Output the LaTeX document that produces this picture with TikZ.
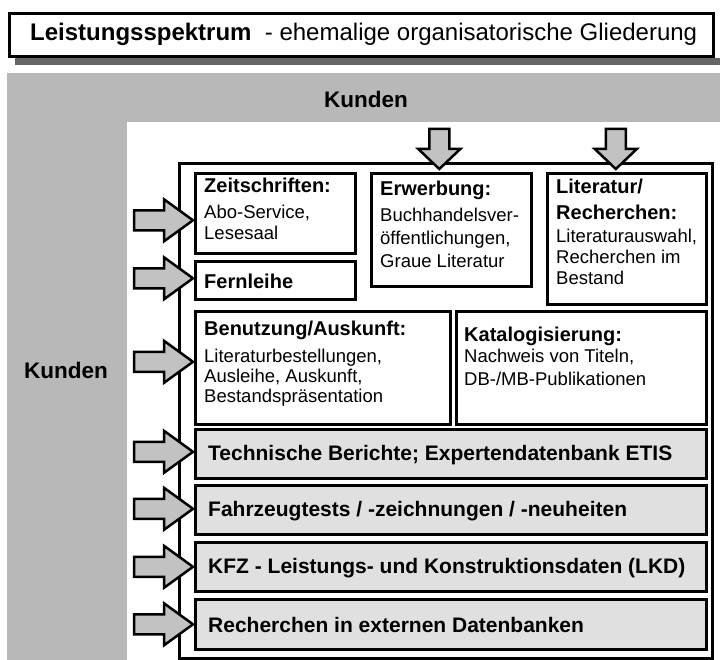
\documentclass[tikz,border=0pt]{standalone}
\usepackage{fontspec}
\setmainfont{Liberation Sans}
\usetikzlibrary{calc}
\definecolor{bgshade}{gray}{0.72}
\definecolor{rowshade}{gray}{0.88}
\definecolor{arrshade}{gray}{0.76}
\definecolor{stripshade}{gray}{0.40}
\newcommand{\hdf}{\fontsize{20}{21}\selectfont\bfseries}
\tikzset{
  box/.style={draw=black, line width=2.6pt, fill=white, inner sep=0pt, anchor=north west},
  rowbox/.style={box, fill=rowshade},
  body/.style={font=\fontsize{18.5}{21}\selectfont, align=left, inner sep=0pt, anchor=base west},
  rowtext/.style={font=\fontsize{21}{24}\selectfont\bfseries, inner sep=0pt, anchor=west},
  kunden/.style={font=\fontsize{22.5}{26}\selectfont\bfseries, inner sep=0pt},
  arrowstyle/.style={draw=black, fill=arrshade, line width=2.5pt, line join=miter},
  rarrow/.pic={\path[arrowstyle] (0,0) -- (-29,-21) -- (-29,-10) -- (-59,-10) -- (-59,10) -- (-29,10) -- (-29,21) -- cycle;},
  darrow/.pic={\path[arrowstyle] (0,0) -- (-21,-20) -- (-10,-20) -- (-10,-40) -- (10,-40) -- (10,-20) -- (21,-20) -- cycle;}
}
\begin{document}
\begin{tikzpicture}[x=1pt,y=-1pt]
\useasboundingbox (0,0) rectangle (720,660);
% background areas
\fill[bgshade] (7,73) rectangle (720,660);
\fill[white] (127,122) rectangle (720,660);
% title
\fill[stripshade] (15,58) rectangle (720,65);
\node[box, minimum width=704, minimum height=43] (title) at (8,12) {};
\node[font=\fontsize{24}{28}\selectfont, inner sep=0pt, anchor=west] (titletext) at ($(title.west)+(22,0)$)
  {\textbf{Leistungsspektrum}\ \ - ehemalige organisatorische Gliederung};
% Kunden
\node[kunden] (kundentop) at (366,99) {Kunden};
\node[kunden] (kundenleft) at (66,370) {Kunden};
% main box
\node[box, minimum width=533, minimum height=495] (main) at (178,162) {};
% inner boxes
\node[box, minimum width=160, minimum height=80] (zeit) at (194,172) {};
\node[box, minimum width=160, minimum height=38] (fern) at (194,260) {};
\node[box, minimum width=160, minimum height=113] (erw) at (370,172) {};
\node[box, minimum width=159, minimum height=131] (lit) at (546,172) {};
\node[box, minimum width=255, minimum height=113] (ben) at (194,310) {};
\node[box, minimum width=250, minimum height=113] (kat) at (455,310) {};
\node[rowbox, minimum width=511, minimum height=49] (tech) at (194,428) {};
\node[rowbox, minimum width=511, minimum height=49] (fahr) at (194,484) {};
\node[rowbox, minimum width=511, minimum height=49] (kfz) at (194,541) {};
\node[rowbox, minimum width=511, minimum height=50] (rech) at (194,598) {};
% texts (anchored at the baseline of their last line)
\node[body] (zeittext) at ($(zeit.north west)+(10,68)$)
  {{\hdf Zeitschriften:}\\[5pt] Abo-Service,\\ Lesesaal};
\node[rowtext, font=\fontsize{20}{24}\selectfont\bfseries] (ferntext) at ($(fern.west)+(10,1)$) {Fernleihe};
\node[body] (erwtext) at ($(erw.north west)+(10,96)$)
  {{\hdf Erwerbung:}\\[5pt] Buchhandelsver-\\[2pt] öffentlichungen,\\[2pt] Graue Literatur};
\node[body] (littext) at ($(lit.north west)+(10,113)$)
  {{\hdf Literatur/}\\[4pt] {\hdf Recherchen:}\\[3pt] Literaturauswahl,\\ Recherchen im\\ Bestand};
\node[body] (bentext) at ($(ben.north west)+(10,92)$)
  {{\hdf Benutzung/Auskunft:}\\[6pt] Literaturbestellungen,\\[-1pt] Ausleihe, Auskunft,\\[-1pt] Bestandspräsentation};
\node[body] (kattext) at ($(kat.north west)+(9,75)$)
  {{\hdf Katalogisierung:}\\[0pt] Nachweis von Titeln,\\[2pt] DB-/MB-Publikationen};
\node[rowtext] (techtext) at ($(tech.west)+(14,1)$) {Technische Berichte; Expertendatenbank ETIS};
\node[rowtext] (fahrtext) at ($(fahr.west)+(14,1)$) {Fahrzeugtests / -zeichnungen / -neuheiten};
\node[rowtext] (kfztext) at ($(kfz.west)+(14,1)$) {KFZ - Leistungs- und Konstruktionsdaten (LKD)};
\node[rowtext] (rechtext) at ($(rech.west)+(14,1)$) {Recherchen in externen Datenbanken};
% arrows from the left
\pic at ($(zeit.west)+(-1,7)$) {rarrow};
\pic at ($(fern.west)+(-1,-2)$) {rarrow};
\pic at ($(ben.west)+(-1,-6)$) {rarrow};
\pic at ($(tech.west)+(-1,-2)$) {rarrow};
\pic at ($(fahr.west)+(-1,-1)$) {rarrow};
\pic at ($(kfz.west)+(-1,0)$) {rarrow};
\pic at ($(rech.west)+(-1,0)$) {rarrow};
% arrows from the top
\pic at ($(erw.north)+(-12,-3)$) {darrow};
\pic at ($(lit.north)+(-11,-3)$) {darrow};
\end{tikzpicture}
\end{document}
